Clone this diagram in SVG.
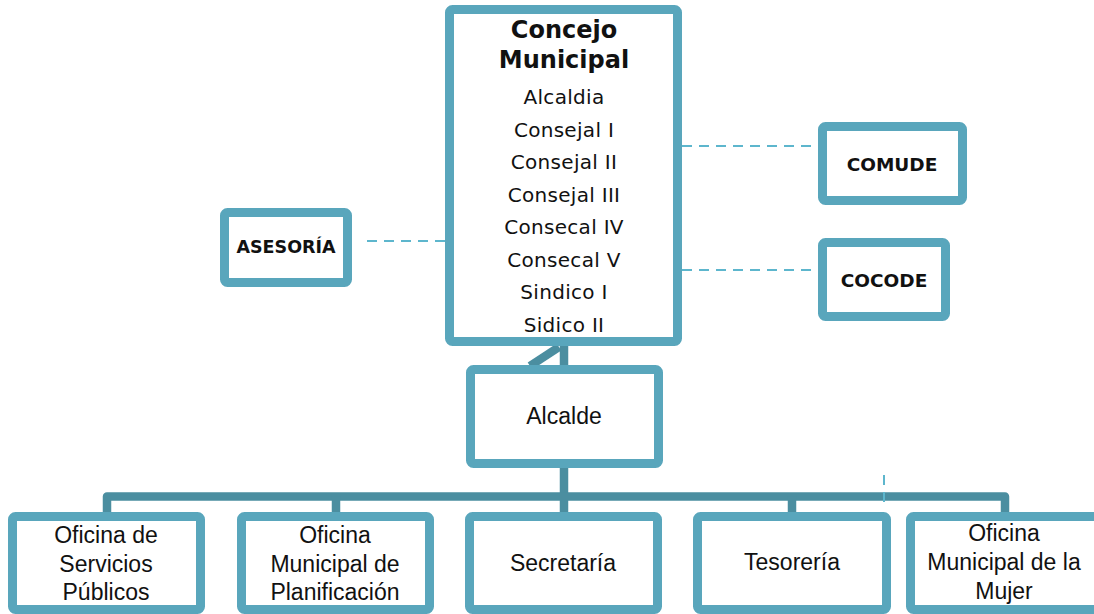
<svg xmlns="http://www.w3.org/2000/svg" width="1094" height="614" viewBox="0 0 1094 614">
<style>
.box{fill:#fff;stroke:#59a6bc;stroke-width:9}
.conn{fill:none;stroke:#4b8ea0;stroke-width:8.5;stroke-linejoin:round}
.dash{fill:none;stroke:#5db6cd;stroke-width:2;stroke-dasharray:10 7}
.cg{font-family:"DejaVu Sans","Liberation Sans",sans-serif;fill:#111;text-anchor:middle}
.cb{font-family:"Liberation Sans",Arial,sans-serif;fill:#111;text-anchor:middle;font-size:23px}
.bold{font-weight:bold}
</style>
<rect width="1094" height="614" fill="#fff"/>
<g id="connectors">
  <path class="conn" d="M564,346 V365"/>
  <path class="conn" d="M530,366 L559,347" stroke-linecap="butt"/>
  <path class="conn" d="M564,466 V512"/>
  <path class="conn" d="M107,512 V496.5 H1005 V512"/>
  <path class="conn" d="M336,496.5 V512"/>
  <path class="conn" d="M792,496.5 V512"/>
  <path class="dash" d="M445,241 H360"/>
  <path class="dash" d="M682,146 H818"/>
  <path class="dash" d="M682,270 H818"/>
  <path class="dash" d="M884,475 V503"/>
</g>
<g id="concejo">
  <rect class="box" x="449.5" y="9.5" width="228" height="332" rx="3"/>
  <text class="cg bold" x="564" y="38" font-size="24">Concejo</text>
  <text class="cg bold" x="564" y="68" font-size="24">Municipal</text>
  <g font-size="20" letter-spacing="0.3">
    <text class="cg" x="564" y="104">Alcaldia</text>
    <text class="cg" x="564" y="136.5">Consejal I</text>
    <text class="cg" x="564" y="169">Consejal II</text>
    <text class="cg" x="564" y="201.5">Consejal III</text>
    <text class="cg" x="564" y="234">Consecal IV</text>
    <text class="cg" x="564" y="266.5">Consecal V</text>
    <text class="cg" x="564" y="299">Sindico I</text>
    <text class="cg" x="564" y="331.5">Sidico II</text>
  </g>
</g>
<g id="asesoria">
  <rect class="box" x="224.5" y="212.5" width="123" height="70" rx="3"/>
  <text class="cg bold" x="286" y="253" font-size="17.5">ASESORÍA</text>
</g>
<g id="comude">
  <rect class="box" x="822.5" y="126.5" width="140" height="74" rx="3"/>
  <text class="cg bold" x="892" y="171" font-size="18.5">COMUDE</text>
</g>
<g id="cocode">
  <rect class="box" x="822.5" y="242.5" width="123" height="74" rx="3"/>
  <text class="cg bold" x="884" y="287" font-size="18.5">COCODE</text>
</g>
<g id="alcalde">
  <rect class="box" x="470.5" y="369.5" width="188" height="94" rx="3"/>
  <text class="cb" x="564" y="424">Alcalde</text>
</g>
<g id="servicios">
  <rect class="box" x="12.5" y="516.5" width="188" height="93" rx="3"/>
  <text class="cb" x="106" y="543">Oficina de</text>
  <text class="cb" x="106" y="571.5">Servicios</text>
  <text class="cb" x="106" y="600">Públicos</text>
</g>
<g id="planificacion">
  <rect class="box" x="241.5" y="516.5" width="188" height="93" rx="3"/>
  <text class="cb" x="335" y="543">Oficina</text>
  <text class="cb" x="335" y="571.5">Municipal de</text>
  <text class="cb" x="335" y="600">Planificación</text>
</g>
<g id="secretaria">
  <rect class="box" x="469.5" y="516.5" width="188" height="93" rx="3"/>
  <text class="cb" x="563" y="571">Secretaría</text>
</g>
<g id="tesoreria">
  <rect class="box" x="697.5" y="516.5" width="189" height="93" rx="3"/>
  <text class="cb" x="792" y="570">Tesorería</text>
</g>
<g id="mujer">
  <rect class="box" x="910.5" y="516.5" width="200" height="93" rx="3"/>
  <text class="cb" x="1004" y="541">Oficina</text>
  <text class="cb" x="1004" y="570">Municipal de la</text>
  <text class="cb" x="1004" y="599">Mujer</text>
</g>
</svg>
